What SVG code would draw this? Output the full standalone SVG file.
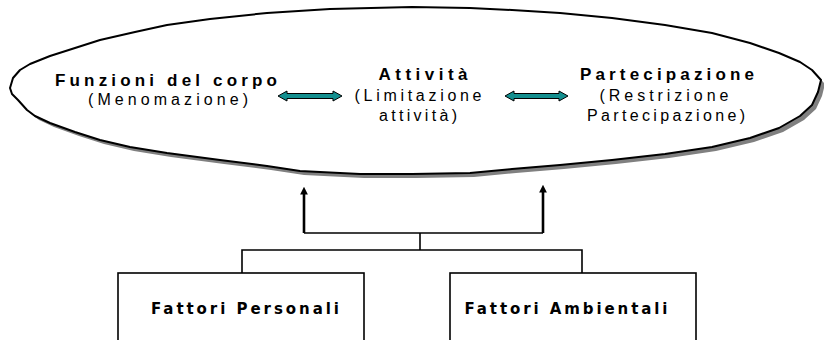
<svg xmlns="http://www.w3.org/2000/svg" width="824" height="340" viewBox="0 0 824 340">
  <style>
    .title { font-family: "Liberation Sans", Arial, sans-serif; font-weight: bold; font-size: 17px; fill: #000; }
    .sub { font-family: "Liberation Sans", Arial, sans-serif; font-size: 16px; fill: #000; }
    .box { fill: #fff; stroke: #000; stroke-width: 1.6; }
    .boxtext { font-family: "DejaVu Sans", Verdana, sans-serif; font-weight: bold; font-size: 15px; fill: #000; }
    .link { fill: none; stroke: #000; stroke-width: 1.6; }
    .up { fill: none; stroke: #000; stroke-width: 2.6; marker-end: url(#head); }
    .dbl { fill: #138f8f; stroke: #000; stroke-width: 1; stroke-linejoin: miter; }
  </style>
  <defs>
    <marker id="head" viewBox="0 0 10 10" refX="2" refY="5" markerWidth="3" markerHeight="3" orient="auto" markerUnits="strokeWidth">
      <path d="M0,0 L10,5 L0,10 Z" fill="#000"/>
    </marker>
    <path id="oval" d="M10,88 L13,78 L20,70 L30,64 L50,56 L75,48 L100,40 L135,32 L167,25 L210,19 L267,13 L330,9 L412,7 L470,8 L512,10 L560,13 L612,18 L665,25 L712,33 L750,43 L779,53 L800,62 L812,70 L821,80 L818,92 L812,105 L800,116 L779,128 L750,138 L712,147 L665,154 L612,160 L560,165 L512,169 L470,173 L412,174 L360,174 L300,171 L267,166 L220,160 L167,153 L130,147 L100,140 L75,132 L50,123 L35,116 L27,110 L18,100 L12,94 Z"/>
  </defs>

  <!-- outer oval with drop shadow -->
  <g id="ambito">
    <use href="#oval" transform="translate(4,4)" fill="#808080"/>
    <use href="#oval" fill="#fff" stroke="#000" stroke-width="2" stroke-linejoin="round"/>
  </g>

  <g id="funzioni">
    <text class="title" x="166" y="86" text-anchor="middle" textLength="222" lengthAdjust="spacing">Funzioni del corpo</text>
    <text class="sub" x="168" y="105" text-anchor="middle" textLength="160" lengthAdjust="spacing">(Menomazione)</text>
  </g>

  <g id="attivita">
    <text class="title" x="423" y="80" text-anchor="middle" textLength="89" lengthAdjust="spacing">Attività</text>
    <text class="sub" x="418" y="101" text-anchor="middle" textLength="127" lengthAdjust="spacing">(Limitazione</text>
    <text class="sub" x="418" y="121" text-anchor="middle" textLength="78" lengthAdjust="spacing">attività)</text>
  </g>

  <g id="partecipazione">
    <text class="title" x="667" y="80" text-anchor="middle" textLength="174" lengthAdjust="spacing">Partecipazione</text>
    <text class="sub" x="664" y="101" text-anchor="middle" textLength="129" lengthAdjust="spacing">(Restrizione</text>
    <text class="sub" x="666" y="121" text-anchor="middle" textLength="158" lengthAdjust="spacing">Partecipazione)</text>
  </g>

  <g id="fattori-personali">
    <rect class="box" x="118" y="273" width="246" height="80"/>
    <text class="boxtext" x="245" y="314" text-anchor="middle" textLength="188" lengthAdjust="spacing">Fattori Personali</text>
  </g>

  <g id="fattori-ambientali">
    <rect class="box" x="450" y="273" width="246" height="80"/>
    <text class="boxtext" x="566" y="314" text-anchor="middle" textLength="203" lengthAdjust="spacing">Fattori Ambientali</text>
  </g>

  <g id="connectors">
    <!-- two-way links between the components -->
    <path class="dbl" d="M278,96 L287,91 L287,93.5 L333,93.5 L333,91 L342,96 L333,101 L333,98.5 L287,98.5 L287,101 Z"/>
    <path class="dbl" d="M505,96 L514,91 L514,93.5 L559,93.5 L559,91 L568,96 L559,101 L559,98.5 L514,98.5 L514,101 Z"/>
    <!-- contextual factors tree -->
    <path class="link" d="M242,273 V250 H582 V273"/>
    <path class="link" d="M420,250 V233"/>
    <path class="link" d="M304,233 H543"/>
    <path class="up" d="M304,233 V193"/>
    <path class="up" d="M543,233 V191"/>
  </g>
</svg>
